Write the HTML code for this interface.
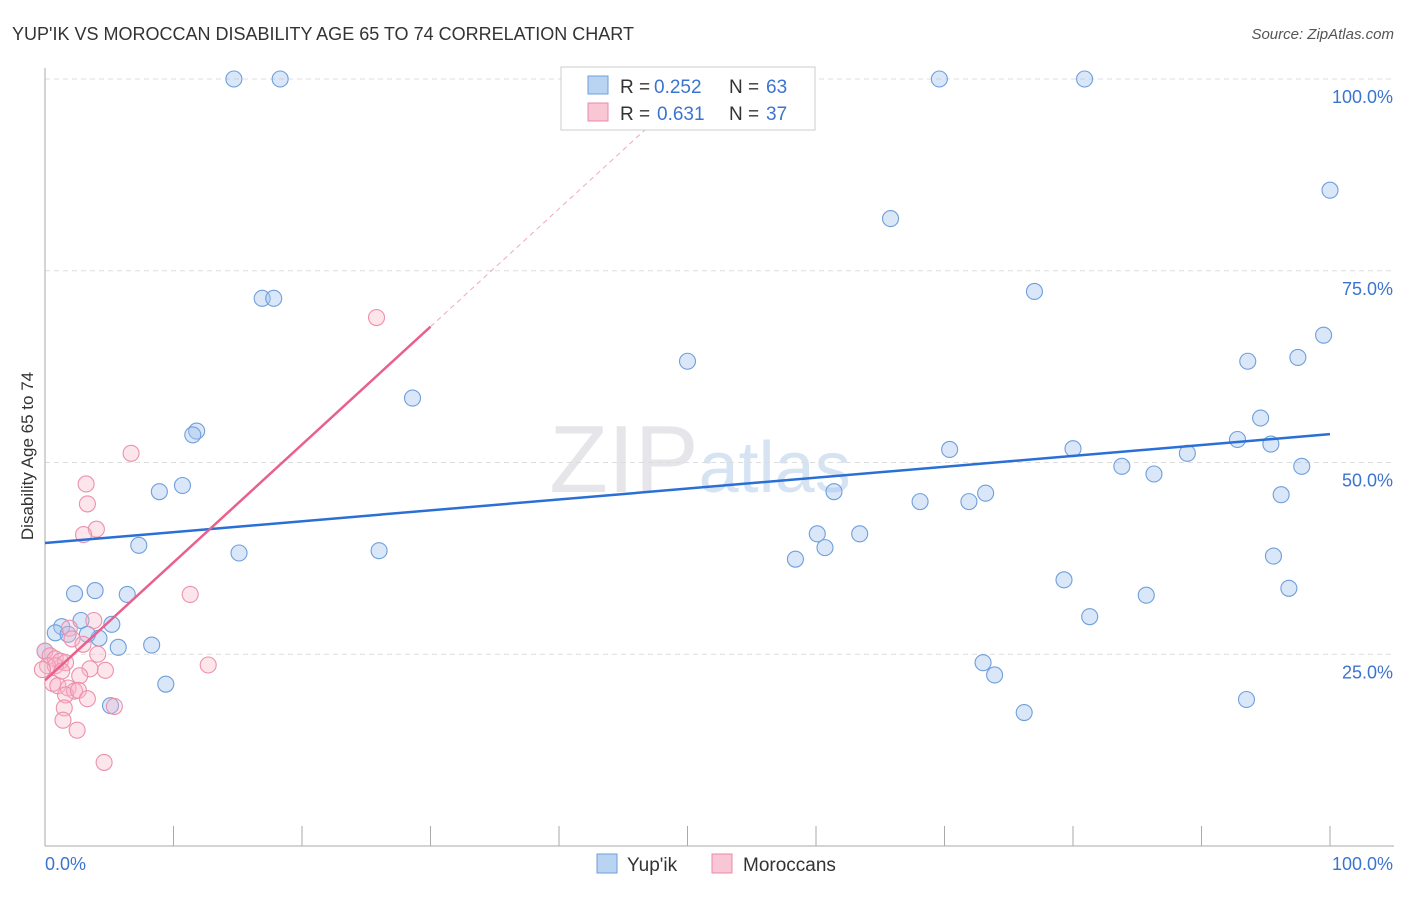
<!DOCTYPE html>
<html><head><meta charset="utf-8"><style>
body{margin:0;background:#fff;font-family:"Liberation Sans",sans-serif;}
svg text{font-family:"Liberation Sans",sans-serif;}
</style></head><body>
<svg width="1406" height="892" id="c">
<text x="12" y="40" font-size="18" fill="#333">YUP'IK VS MOROCCAN DISABILITY AGE 65 TO 74 CORRELATION CHART</text>
<text x="1394" y="39" font-size="15" fill="#555" font-style="italic" text-anchor="end">Source: ZipAtlas.com</text>
<text x="700" y="492" font-size="96" fill="#e6e6ea" text-anchor="middle" font-family="Liberation Serif">ZIP<tspan fill="#d6e3f3" font-family="Liberation Sans" font-size="72">atlas</tspan></text>
<text transform="translate(33,456) rotate(-90)" font-size="17" fill="#333" text-anchor="middle">Disability Age 65 to 74</text>
<g id="grid"></g><g id="pts"></g><g id="lines"></g>
<g>
<rect x="561" y="67" width="254" height="63" fill="#fff" stroke="#ccc"/>
<rect x="588" y="76" width="20" height="18" fill="#b9d3f3" stroke="#6f9fdb"/>
<text x="620" y="93" font-size="19" fill="#333">R =</text>
<text x="654" y="93" font-size="19" fill="#3b74d0">0.252</text>
<text x="729" y="93" font-size="19" fill="#333">N =</text>
<text x="766" y="93" font-size="19" fill="#3b74d0">63</text>
<rect x="588" y="103" width="20" height="18" fill="#f9c6d5" stroke="#e98aa6"/>
<text x="620" y="120" font-size="19" fill="#333">R =</text>
<text x="657" y="120" font-size="19" fill="#3b74d0">0.631</text>
<text x="729" y="120" font-size="19" fill="#333">N =</text>
<text x="766" y="120" font-size="19" fill="#3b74d0">37</text>
</g>
<g>
<rect x="597" y="854" width="20" height="19" fill="#b9d3f3" stroke="#6f9fdb"/>
<text x="627" y="871" font-size="19" fill="#333">Yup'ik</text>
<rect x="712" y="854" width="20" height="19" fill="#f9c6d5" stroke="#e98aa6"/>
<text x="743" y="871" font-size="19" fill="#333">Moroccans</text>
</g>
</svg>
<script>
const yTicks=[25,50,75,100];
const yTickLabels=["25.0%","50.0%","75.0%","100.0%"];
const blueX=[14.7,18.3,69.6,80.9,100,65.8,16.9,17.8,77.0,99.5,50.0,97.5,93.6,28.6,94.6,11.8,11.5,92.8,70.4,80.0,95.4,88.9,83.8,86.3,97.8,10.7,8.9,61.4,73.2,96.2,68.1,71.9,60.1,63.4,60.7,7.3,15.1,26.0,58.4,95.6,79.3,3.9,2.3,6.4,85.7,96.8,81.3,2.8,5.2,1.3,0.8,1.8,4.2,3.3,5.7,8.3,0,73.0,73.9,9.4,93.5,5.1,76.2];
const blueY=[100,100,100,100,85.5,81.8,71.4,71.4,72.3,66.6,63.2,63.7,63.2,58.4,55.8,54.1,53.6,53.0,51.7,51.8,52.4,51.2,49.5,48.5,49.5,47.0,46.2,46.2,46.0,45.8,44.9,44.9,40.7,40.7,38.9,39.2,38.2,38.5,37.4,37.8,34.7,33.3,32.9,32.8,32.7,33.6,29.9,29.4,28.9,28.6,27.8,27.6,27.1,27.6,25.9,26.2,25.4,23.9,22.3,21.1,19.1,18.3,17.4];
const pinkX=[25.8,6.7,3.2,3.3,4.0,3.0,11.3,3.8,1.9,0,0.4,0.8,1.2,1.6,0.2,12.7,4.7,3.5,2.7,0.6,1.0,1.8,2.3,1.6,2.6,3.3,5.4,1.5,1.4,2.5,4.6,2.1,2.96,0.8,1.3,4.1,-0.2];
const pinkY=[68.9,51.2,47.2,44.6,41.3,40.6,32.8,29.4,28.4,25.4,24.8,24.4,24.1,23.9,23.5,23.6,22.9,23.1,22.2,21.2,20.9,20.6,20.2,19.7,20.3,19.2,18.2,18.0,16.4,15.1,10.9,27.0,26.3,23.5,22.8,25.0,23.0];
const blueTrend=[39.5,53.7];
const pinkTrend=[21.6,1.537];
const X=v=>45+v*12.85, Y=v=>846-v*7.67;
const NS="http://www.w3.org/2000/svg";
function mk(p,t,a){const e=document.createElementNS(NS,t);for(const k in a)e.setAttribute(k,a[k]);document.getElementById(p).appendChild(e);return e;}
yTicks.forEach((t,i)=>{
 const l=mk('grid','line',{x1:45,x2:1394,y1:Y(t),y2:Y(t),stroke:'#ddd','stroke-dasharray':'5,4'});
 
 
 const tx=mk('grid','text',{x:1393,y:Y(t)+24,'font-size':18,fill:'#3b74d0','text-anchor':'end'});
 tx.textContent=yTickLabels[i];
 
 
});
let a=mk('grid','line',{x1:45,x2:45,y1:68,y2:846,stroke:'#aaa'});


a=mk('grid','line',{x1:45,x2:1394,y1:846,y2:846,stroke:'#aaa'});


for(let i=1;i<=10;i++){const t=mk('grid','line',{x1:X(i*10),x2:X(i*10),y1:826,y2:846,stroke:'#aaa'});
 
 }
[["0.0%",45,'start'],["100.0%",1393,'end']].forEach(d=>{const t=mk('grid','text',{x:d[1],y:870,'font-size':18,fill:'#3b74d0','text-anchor':d[2]});t.textContent=d[0];
 
 });
blueX.forEach((x,i)=>{const c=mk('pts','circle',{cx:X(x),cy:Y(blueY[i]),r:8,fill:'rgba(160,195,240,0.4)',stroke:'#6f9fdb','stroke-width':1.1});
 
 });
pinkX.forEach((x,i)=>{const c=mk('pts','circle',{cx:X(x),cy:Y(pinkY[i]),r:8,fill:'rgba(248,180,200,0.35)',stroke:'#ec91ac','stroke-width':1.1});
 
 });
let l=mk('lines','line',{x1:X(0),y1:Y(blueTrend[0]),x2:X(100),y2:Y(blueTrend[1]),stroke:'#2a6fd6','stroke-width':2.5});


l=mk('lines','line',{x1:X(0),y1:Y(pinkTrend[0]),x2:X(30),y2:Y(pinkTrend[0]+30*pinkTrend[1]),stroke:'#e8608c','stroke-width':2.5});


l=mk('lines','line',{x1:X(30),y1:Y(pinkTrend[0]+30*pinkTrend[1]),x2:X(47),y2:Y(pinkTrend[0]+47*pinkTrend[1]),stroke:'#f0a8bd','stroke-width':1,'stroke-dasharray':'5,4'});


</script>
</body></html>
